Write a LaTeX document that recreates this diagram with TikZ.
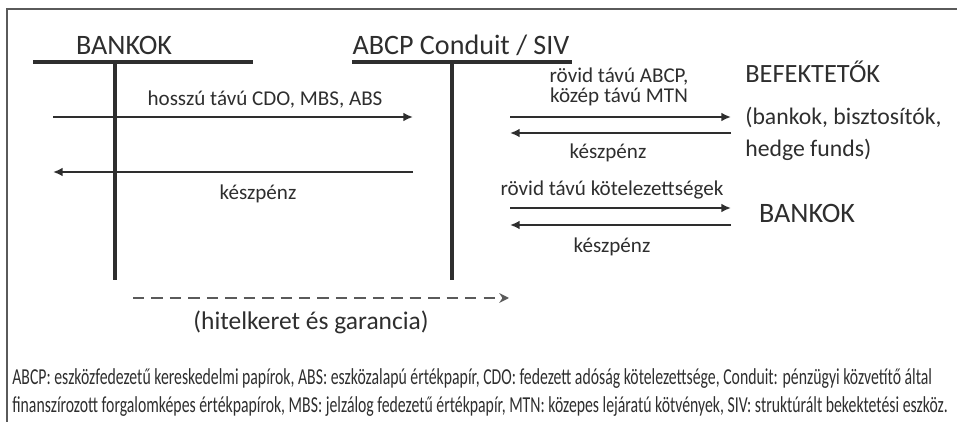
\documentclass[tikz,border=0pt]{standalone}
\usepackage{fontspec}
\setmainfont{Carlito}
\newfontfamily\narrowfont[FakeStretch=0.69]{Carlito}
\usetikzlibrary{arrows.meta,positioning}
\definecolor{ink}{HTML}{2E2E2E}
\definecolor{rim}{HTML}{5A5A5A}
\tikzset{
    -{Latex[length=5.5pt,width=5pt]},auto,
    head/.style={text=ink, font=\fontsize{16}{18}\selectfont, inner sep=0pt},
    party/.style={text=ink, font=\fontsize{13.5}{16}\selectfont, inner sep=0pt, anchor=west},
    lbl/.style={text=ink, font=\fontsize{12}{11.3}\selectfont, inner sep=0pt, align=center},
    note/.style={text=ink, font=\narrowfont\fontsize{13}{15}\selectfont, inner sep=0pt, anchor=base west},
    bar/.style={-, draw=ink, line width=1.8pt},
    flow/.style={draw=ink, line width=1.1pt},
    credit/.style={draw=rim, line width=1.4pt, dash pattern=on 6.5pt off 4pt, -{Stealth[length=5.5pt,width=5.5pt]}},
    frame/.style={-, draw=rim, line width=0.9pt}
}
\begin{document}
\begin{tikzpicture}[x=0.02cm,y=-0.02cm]
    \useasboundingbox (0,0) rectangle (957,422);
    \draw[frame] (957,9) -- (7,9) -- (7,422);

    % two balance sheets
    \node[head] (bank) at (124,45) {BANKOK};
    \node[head] (abcp) at (461,45) {ABCP Conduit / SIV};
    \coordinate (bankl) at (33,62);
    \coordinate (bankr) at (253,62);
    \coordinate (bankt) at (115,62);
    \coordinate (bankb) at (115,280);
    \coordinate (abcpl) at (352,62);
    \coordinate (abcpr) at (572,62);
    \coordinate (abcpt) at (452,62);
    \coordinate (abcpb) at (452,280);
    \draw[bar] (bankl) -- (bankr);
    \draw[bar] (bankt) -- (bankb);
    \draw[bar] (abcpl) -- (abcpr);
    \draw[bar] (abcpt) -- (abcpb);

    % banks -> conduit
    \coordinate (p1) at (53,117);
    \coordinate (q1) at (413,117);
    \coordinate (p2) at (53,172);
    \coordinate (q2) at (413,172);
    \node[lbl] (cdo) at (265,100) {hosszú távú CDO, MBS, ABS};
    \node[lbl] (cash1) at (258,194) {készpénz};
    \path (p1) edge[flow] (q1);
    \path (q2) edge[flow] (p2);

    % conduit -> investors
    \node[party, font=\fontsize{15}{17}\selectfont] (inv) at (745,72) {BEFEKTETŐK};
    \node[party] (inv2) at (745,117) {(bankok, bisztosítók,};
    \node[party] (inv3) at (745,150) {hedge funds)};
    \coordinate (p3) at (510,117);
    \coordinate (q3) at (731,117);
    \coordinate (p4) at (510,133);
    \coordinate (q4) at (731,133);
    \node[lbl] (abcpnote) at (619,87) {rövid távú ABCP,\\közép távú MTN};
    \node[lbl] (cash2) at (608,153) {készpénz};
    \path (p3) edge[flow] (q3);
    \path (q4) edge[flow] (p4);

    % conduit -> banks
    \node[head] (bank2) at (807,213) {BANKOK};
    \coordinate (p5) at (510,208);
    \coordinate (q5) at (731,208);
    \coordinate (p6) at (510,225);
    \coordinate (q6) at (731,225);
    \node[lbl] (liab) at (612,190) {rövid távú kötelezettségek};
    \node[lbl] (cash3) at (612,247) {készpénz};
    \path (p5) edge[flow] (q5);
    \path (q6) edge[flow] (p6);

    % credit line
    \coordinate (c1) at (133,298);
    \coordinate (c2) at (509,298);
    \path (c1) edge[credit] (c2);
    \node[head, font=\fontsize{14.5}{16}\selectfont] (guar) at (311,322) {(hitelkeret és garancia)};

    % footnote
    \node[note] (fn1) at (12,384) {ABCP: eszközfedezetű kereskedelmi papírok, ABS: eszközalapú értékpapír, CDO: fedezett adóság kötelezettsége, Conduit: pénzügyi közvetítő által};
    \node[note] (fn2) at (12,412) {finanszírozott forgalomképes értékpapírok, MBS: jelzálog fedezetű értékpapír, MTN: közepes lejáratú kötvények, SIV: struktúrált bekektetési eszköz.};
\end{tikzpicture}
\end{document}
